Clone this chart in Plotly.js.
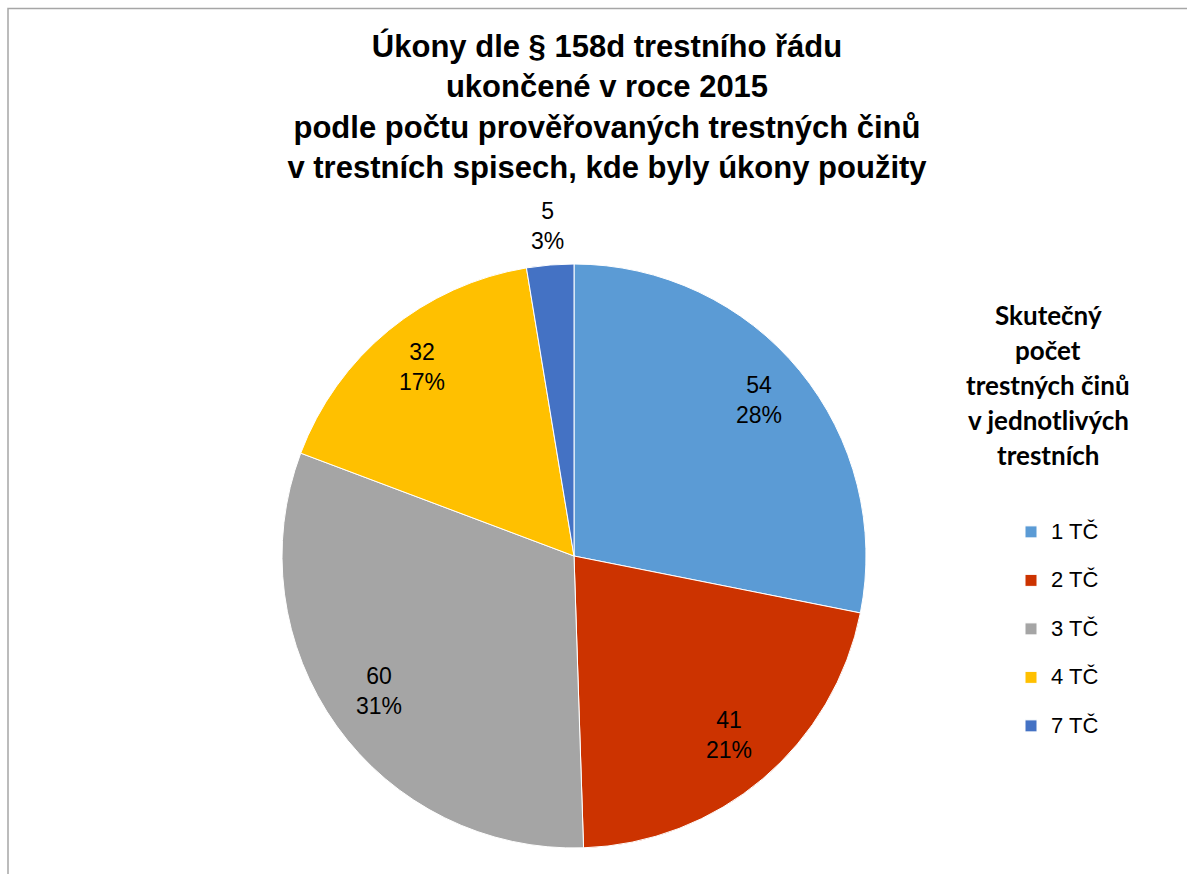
<!DOCTYPE html>
<html><head><meta charset="utf-8">
<script src="https://cdn.plot.ly/plotly-3.0.1.min.js"></script>
<style>html,body{margin:0;padding:0;background:#fff}#chart{width:1187px;height:874px}</style>
</head><body><div id="chart"></div>
<script>
const categories = ["1 TČ", "2 TČ", "3 TČ", "4 TČ", "7 TČ"];
const values = [54, 41, 60, 32, 5];
const colors = ["#5B9BD5", "#CC3300", "#A5A5A5", "#FFC000", "#4472C4"];
const chartTitle = "Úkony dle § 158d trestního řádu<br>ukončené v roce 2015<br>podle počtu prověřovaných trestných činů<br>v trestních spisech, kde byly úkony použity";
const legendTitleLines = ["Skutečný", "počet", "trestných činů", "v jednotlivých", "trestních"];

const W = 1187, H = 874;
const FONT = '"Liberation Sans", Arial, sans-serif';
const pieDomain = {x: [282 / W, 866 / W], y: [1 - 848 / H, 1 - 264 / H]};
const R = 292;
const cx = (pieDomain.x[0] + pieDomain.x[1]) / 2;
const cy = (pieDomain.y[0] + pieDomain.y[1]) / 2;

const total = values.reduce((a, b) => a + b, 0);
const annotations = [];
let cum = 0;
values.forEach((v, i) => {
  const mid = (cum + v / 2) / total * 2 * Math.PI;
  cum += v;
  const inside = v / total > 0.05;
  const rf = inside ? 0.82 * R : 1.12 * R;
  annotations.push({
    xref: 'paper', yref: 'paper',
    x: cx + rf * Math.sin(mid) / W,
    y: cy + rf * Math.cos(mid) / H + 4 / H,
    xanchor: 'center', yanchor: 'middle', showarrow: false,
    text: v + '<br>' + Math.round(v / total * 100) + '%',
    font: {family: FONT, size: 23, color: '#000'}
  });
});
legendTitleLines.forEach((t, i) => {
  annotations.push({
    xref: 'paper', yref: 'paper',
    x: 1048 / W, y: 1 - (315 + 35 * i) / H,
    xanchor: 'center', yanchor: 'middle', showarrow: false,
    text: '<b>' + t + '</b>',
    font: {family: 'Lato, "Open Sans", sans-serif', size: 26, color: '#000'}
  });
});

const trace = {
  type: 'pie',
  labels: categories.map(c => '<span style="font-size:22px">' + c + '</span><br> '),
  values: values,
  sort: false,
  direction: 'clockwise',
  rotation: 0,
  marker: {colors: colors, line: {color: '#ffffff', width: 1}},
  textinfo: 'none',
  hoverinfo: 'label+value+percent',
  domain: pieDomain
};
const layout = {
  width: W, height: H,
  margin: {l: 0, r: 0, t: 0, b: 0},
  paper_bgcolor: '#fff',
  title: {
    text: chartTitle,
    x: 607 / W, xanchor: 'center',
    y: 1 - 57 / H, yanchor: 'top',
    font: {family: FONT, size: 31, color: '#000', weight: 'bold'}
  },
  showlegend: true,
  legend: {
    x: 1011 / W, xanchor: 'left',
    y: 1 - 514 / H, yanchor: 'top',
    valign: 'top',
    itemwidth: 30,
    font: {family: FONT, size: 17.5, color: '#000'},
    bgcolor: 'rgba(0,0,0,0)'
  },
  annotations: annotations,
  shapes: [{
    type: 'rect', xref: 'paper', yref: 'paper',
    x0: 8 / W, x1: 1.01, y0: -0.01, y1: 1 - 8.5 / H,
    line: {color: '#A6A6A6', width: 1.5}
  }]
};
Plotly.newPlot('chart', [trace], layout, {displayModeBar: false, staticPlot: true});
</script></body></html>
